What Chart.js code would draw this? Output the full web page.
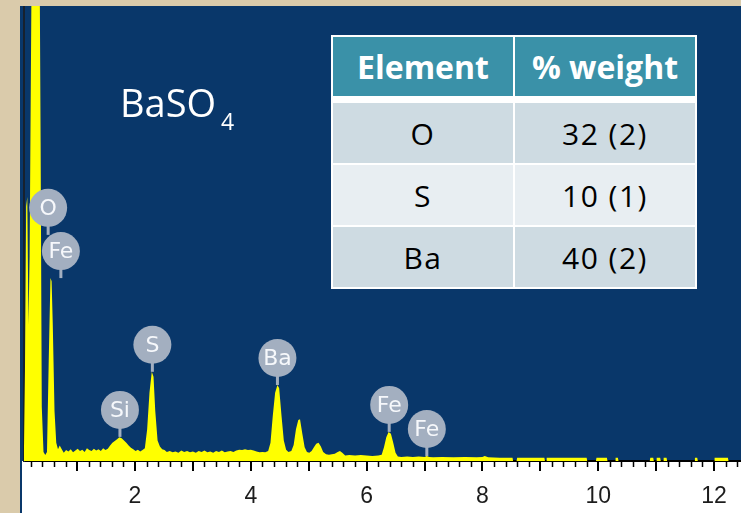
<!DOCTYPE html>
<html>
<head>
<meta charset="utf-8">
<script src="https://cdn.jsdelivr.net/npm/chart.js@4"></script>
<style>
  body { margin: 0; width: 741px; height: 513px; background: #dacbab; overflow: hidden; position: relative; font-family: "Open Sans", sans-serif; }
  #wrap { position: absolute; left: 20px; top: 6px; width: 721px; height: 507px; background: #ffffff; }
  #spectrum { position: absolute; left: 0; top: 0; }
  .title { position: absolute; left: 120px; top: 84px; color: #ffffff; font-size: 38px; line-height: 36px; white-space: nowrap; }
  .title sub { font-size: 23px; vertical-align: -13px; line-height: 0; margin-left: 5px; }
  table.weights { position: absolute; left: 331px; top: 35px; border-collapse: separate; border-spacing: 2px; background: #ffffff; }
  table.weights th, table.weights td { width: 180px; padding: 0; text-align: center; }
  table.weights th { height: 59px; background: #3a91a8; color: #ffffff; font-weight: 700; font-size: 32px; border-bottom: 5px solid #ffffff; }
  table.weights td { height: 60px; color: #000000; font-size: 30px; font-weight: 400; letter-spacing: 1.5px; }
  table.weights tr.odd td { background: #cedbe2; }
  table.weights tr.even td { background: #e8eef2; }
</style>
</head>
<body>
<div id="wrap">
  <canvas id="spectrum" width="721" height="507"></canvas>
</div>
<div class="title">BaSO<sub>4</sub></div>
<table class="weights" id="weights"></table>

<script>
// EDS spectrum (keV / counts)
const energy = [
  0.08, 0.10, 0.12, 0.14, 0.16, 0.18, 0.21, 0.24, 0.34, 0.37, 0.39, 0.42, 0.45, 0.48, 0.51, 0.54, 0.56, 0.58, 0.61, 0.64,
  0.67, 0.70, 0.73, 0.77, 0.81, 0.85, 0.89, 0.93, 0.97, 1.01, 1.05, 1.09, 1.13, 1.17, 1.21, 1.25, 1.29, 1.33, 1.37, 1.41,
  1.45, 1.49, 1.53, 1.57, 1.61, 1.65, 1.69, 1.73, 1.77, 1.81, 1.85, 1.89, 1.93, 1.97, 2.01, 2.05, 2.09, 2.13, 2.17, 2.21,
  2.25, 2.29, 2.32, 2.35, 2.39, 2.43, 2.47, 2.51, 2.55, 2.60, 2.65, 2.70, 2.75, 2.80, 2.85, 2.90, 2.95, 3.00, 3.05, 3.10,
  3.15, 3.20, 3.25, 3.30, 3.35, 3.40, 3.45, 3.50, 3.55, 3.60, 3.65, 3.70, 3.75, 3.80, 3.85, 3.90, 3.95, 4.00, 4.05, 4.10,
  4.15, 4.20, 4.25, 4.30, 4.34, 4.38, 4.42, 4.46, 4.49, 4.53, 4.57, 4.61, 4.65, 4.70, 4.74, 4.78, 4.82, 4.85, 4.89, 4.93,
  4.97, 5.01, 5.05, 5.09, 5.13, 5.17, 5.21, 5.25, 5.30, 5.35, 5.40, 5.45, 5.50, 5.54, 5.58, 5.63, 5.70, 5.80, 5.90, 6.00,
  6.10, 6.20, 6.26, 6.30, 6.34, 6.38, 6.42, 6.46, 6.50, 6.54, 6.60, 6.70, 6.80, 6.90, 7.00, 7.04, 7.08, 7.15, 7.30, 7.50,
  7.70, 7.90, 8.00, 8.04, 8.10, 8.30, 8.52, 8.53, 8.59, 8.60, 8.80, 9.07, 9.08, 9.10, 9.11, 9.40, 9.80, 9.81, 9.96, 9.97,
  10.15, 10.16, 10.29, 10.30, 10.34, 10.35, 10.89, 10.90, 10.95, 10.96, 11.00, 11.01, 11.07, 11.08, 11.12, 11.13, 11.18, 11.19, 11.66, 11.67,
  11.71, 11.72, 12.00, 12.01, 12.24, 12.25, 12.47
];
const counts = [
  0, 200, 560, 580, 300, 450, 1000, 1400, 1400, 700, 120, 20, 13, 20, 220, 402, 395, 300, 110, 40,
  26, 34, 27, 18, 24, 21, 26, 19, 23, 27, 22, 25, 20, 28, 24, 22, 27, 23, 26, 22,
  28, 24, 27, 34, 40, 44, 48, 52, 50, 45, 40, 34, 29, 26, 22, 25, 21, 24, 28, 70,
  150, 196, 185, 110, 45, 32, 26, 24, 20, 22, 19, 21, 18, 23, 20, 22, 19, 21, 18, 22,
  20, 23, 19, 21, 18, 22, 20, 23, 19, 21, 22, 20, 23, 25, 24, 26, 24, 25, 23, 21,
  19, 20, 19, 22, 40, 100, 150, 167, 160, 100, 45, 25, 20, 22, 35, 70, 90, 92, 60, 30,
  20, 18, 22, 30, 38, 40, 32, 20, 15, 14, 15, 16, 20, 22, 18, 12, 13, 12, 13, 12,
  11, 12, 14, 30, 52, 64, 60, 40, 18, 10, 9, 10, 9, 10, 9, 11, 9, 8, 9, 8,
  9, 8, 9, 11, 8, 7, 7, 0, 0, 7, 7, 7, 0, 0, 7, 7, 7, 0, 0, 7,
  7, 0, 0, 7, 7, 0, 0, 7, 7, 0, 0, 7, 7, 0, 0, 7, 7, 0, 0, 7,
  7, 0, 0, 7, 7, 0, 0
];

// element markers: energy of the line and the height where the pin ends
const markerNames = ["O", "Fe", "Si", "S", "Ba", "Fe", "Fe"];
const markerEnergy = [0.50, 0.72, 1.74, 2.30, 4.46, 6.39, 7.04];
const markerTip = [497, 402, 53, 196, 167, 64, 11];

// x axis
const majorTicks = [1, 2, 3, 4, 5, 6, 7, 8, 9, 10, 11, 12];
const tickLabels = ["", "2", "", "4", "", "6", "", "8", "", "10", "", "12"];

// weight table
const elements = ["O", "S", "Ba"];
const weights = ["32 (2)", "10 (1)", "40 (2)"];

const table = document.getElementById("weights");
let html = "<tr><th>Element</th><th>% weight</th></tr>";
elements.forEach((el, i) => {
  html += `<tr class="${i % 2 ? "even" : "odd"}"><td>${el}</td><td>${weights[i]}</td></tr>`;
});
table.innerHTML = html;

const BLUE = "#09376a";

const backdrop = {
  id: "backdrop",
  beforeDraw(chart) {
    const { ctx, chartArea } = chart;
    ctx.save();
    ctx.fillStyle = BLUE;
    ctx.fillRect(0, 0, chart.width, chartArea.bottom);
    ctx.fillRect(0, 0, 2, chart.height);
    ctx.restore();
  },
};

const minorTicks = {
  id: "minorTicks",
  afterDraw(chart) {
    const { ctx, chartArea } = chart;
    const x = chart.scales.x;
    ctx.save();
    ctx.strokeStyle = "#000000";
    ctx.lineWidth = 1.5;
    for (let i = 1; i * 0.2 < x.max; i++) {
      if (i % 5 === 0) continue;
      const px = Math.round(x.getPixelForValue(i * 0.2)) + 0.5;
      ctx.beginPath();
      ctx.moveTo(px, chartArea.bottom);
      ctx.lineTo(px, chartArea.bottom + 6);
      ctx.stroke();
    }
    ctx.restore();
  },
};

const markers = {
  id: "markers",
  afterDatasetsDraw(chart) {
    const { ctx } = chart;
    const x = chart.scales.x, y = chart.scales.y;
    const r = 19;
    ctx.save();
    markerNames.forEach((name, i) => {
      const px = x.getPixelForValue(markerEnergy[i]);
      const tip = y.getPixelForValue(markerTip[i]);
      const cy = tip - 27;
      ctx.fillStyle = "#a3afc0";
      ctx.fillRect(px - 1.5, cy, 3, tip - cy);
      ctx.beginPath();
      ctx.arc(px, cy, r, 0, Math.PI * 2);
      ctx.fill();
      ctx.fillStyle = "#f6f8fb";
      ctx.font = "22px 'DejaVu Sans'";
      ctx.textAlign = "center";
      ctx.textBaseline = "middle";
      ctx.fillText(name, px, cy + 1);
    });
    ctx.restore();
  },
};

new Chart(document.getElementById("spectrum"), {
  type: "line",
  data: {
    datasets: [{
      data: energy.map((e, i) => ({ x: e, y: counts[i] })),
      borderWidth: 0,
      borderColor: "#ffff00",
      backgroundColor: "#ffff00",
      fill: "origin",
      pointRadius: 0,
      tension: 0,
    }],
  },
  options: {
    responsive: false,
    animation: false,
    devicePixelRatio: 1,
    layout: { padding: { left: 4, right: 0, top: 0, bottom: 0 } },
    plugins: { legend: { display: false }, tooltip: { enabled: false } },
    scales: {
      x: {
        type: "linear",
        min: 0.083,
        max: 12.466,
        afterBuildTicks: (scale) => { scale.ticks = majorTicks.map((v) => ({ value: v })); },
        afterFit: (scale) => { scale.height = 52; },
        ticks: {
          autoSkip: false,
          maxRotation: 0,
          padding: 12,
          color: "#1c1c1c",
          font: { family: "'Liberation Sans'", size: 23 },
          callback: (v, i) => tickLabels[i],
        },
        grid: { drawOnChartArea: false, tickLength: 10, tickColor: "#000000", lineWidth: 2 },
        border: { display: true, color: "#000000", width: 2 },
      },
      y: {
        min: 0,
        max: 1000,
        ticks: { display: false },
        grid: { display: false, drawTicks: false },
        border: { display: true, color: "#17212e", width: 2 },
      },
    },
  },
  plugins: [backdrop, minorTicks, markers],
});
</script>
</body>
</html>
